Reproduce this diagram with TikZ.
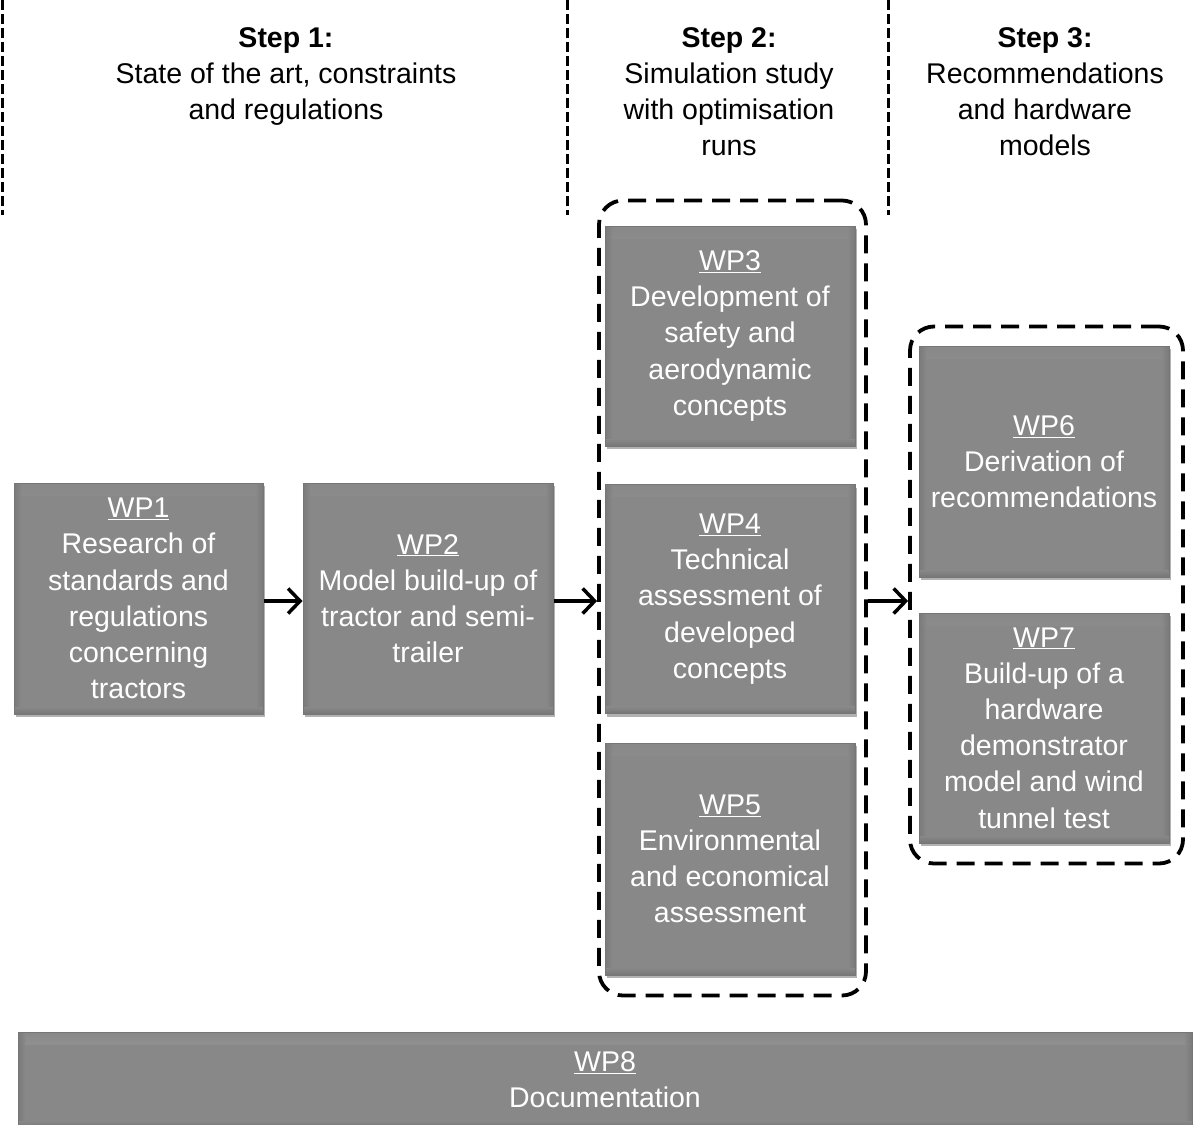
\documentclass[tikz,border=0pt]{standalone}
\usepackage{fontspec}
\setmainfont{Liberation Sans}
\usetikzlibrary{arrows.meta,shadows,calc}
\definecolor{boxgray}{RGB}{136,136,136}
\definecolor{boxedge}{RGB}{118,118,118}
\definecolor{boxlight}{RGB}{196,196,196}
\tikzset{
  wpbox/.style={draw=boxedge, line width=1pt, fill=boxgray, text=white, align=center,
    font=\fontsize{28.5}{36.2}\selectfont, inner sep=0pt,
    drop shadow={shadow xshift=2pt, shadow yshift=-3pt, opacity=0.3, fill=black},
    path picture={
      \shade[top color=boxgray, bottom color=boxlight]
        (path picture bounding box.north west) rectangle ([yshift=-12pt]path picture bounding box.north east);
      \shade[left color=boxedge, right color=boxgray, opacity=0.8]
        (path picture bounding box.north west) rectangle ([xshift=7pt]path picture bounding box.south west);
      \shade[right color=boxedge, left color=boxgray, opacity=0.8]
        ([xshift=-7pt]path picture bounding box.north east) rectangle (path picture bounding box.south east);
      \shade[top color=boxgray, bottom color=boxedge]
        ([yshift=7pt]path picture bounding box.south west) rectangle (path picture bounding box.south east);
    }},
  groupbox/.style={draw=black, line width=3.8pt, dash pattern=on 18pt off 10pt, rounded corners=24pt, fill=none},
  stepsep/.style={draw=black, line width=3pt, dash pattern=on 10pt off 4pt},
  flow/.style={draw=black, line width=3.5pt, -{Straight Barb[length=12pt,width=25pt,line width=3.5pt]}},
  head/.style={align=center, font=\fontsize{28.5}{36.2}\selectfont, inner sep=0pt}
}
\begin{document}
\begin{tikzpicture}[x=1pt,y=-1pt]
\useasboundingbox (0,0) rectangle (1193,1124);
% step separators
\coordinate (s1a) at (2,0);   \coordinate (s1b) at (2,215);
\coordinate (s2a) at (567,0); \coordinate (s2b) at (567,215);
\coordinate (s3a) at (888,0); \coordinate (s3b) at (888,215);
\draw[stepsep] (s1a) -- (s1b);
\draw[stepsep] (s2a) -- (s2b);
\draw[stepsep] (s3a) -- (s3b);
% headers
\node[head, anchor=north] (h1) at (286,27) {\textbf{Step 1:}\\State of the art, constraints\\and regulations};
\node[head, anchor=north] (h2) at (729,27) {\textbf{Step 2:}\\Simulation study\\with optimisation\\runs};
\node[head, anchor=north] (h3) at (1045,27) {\textbf{Step 3:}\\Recommendations\\and hardware\\models};
% groups
\node[groupbox, minimum width=267pt, minimum height=795pt] (g1) at (732.5,598) {};
\node[groupbox, minimum width=273pt, minimum height=537pt] (g2) at (1046.5,595) {};
% work packages
\node[wpbox, minimum width=249pt, minimum height=231pt] (wp1) at (138.5,598.5)
  {\underline{WP1}\\Research of\\standards and\\regulations\\concerning\\tractors};
\node[wpbox, minimum width=250pt, minimum height=231pt] (wp2) at (428,598.5)
  {\underline{WP2}\\Model build-up of\\tractor and semi-\\trailer};
\node[wpbox, minimum width=250pt, minimum height=220pt] (wp3) at (730,336)
  {\underline{WP3}\\Development of\\safety and\\aerodynamic\\concepts};
\node[wpbox, minimum width=250pt, minimum height=229pt] (wp4) at (730,599)
  {\underline{WP4}\\Technical\\assessment of\\developed\\concepts};
\node[wpbox, minimum width=250pt, minimum height=232pt] (wp5) at (730,859)
  {\underline{WP5}\\Environmental\\and economical\\assessment};
\node[wpbox, minimum width=250pt, minimum height=231pt] (wp6) at (1044,461.5)
  {\underline{WP6}\\Derivation of\\recommendations};
\node[wpbox, minimum width=250pt, minimum height=230pt] (wp7) at (1044,728)
  {\underline{WP7}\\Build-up of a\\hardware\\demonstrator\\model and wind\\tunnel test};
\node[wpbox, minimum width=1174pt, minimum height=96pt] (wp8) at (605,1080)
  {\underline{WP8}\\Documentation};
% arrows
\draw[flow] ($(wp1.east)+(0,2.5)$) -- ($(wp2.west)+(0,2.5)$);
\draw[flow] ($(wp2.east)+(0,2.5)$) -- ($(wp2.east -| g1.west)+(0,2.5)$);
\draw[flow] ($(g1.east)+(0,3)$) -- ($(g1.east -| g2.west)+(0,3)$);
\end{tikzpicture}
\end{document}
